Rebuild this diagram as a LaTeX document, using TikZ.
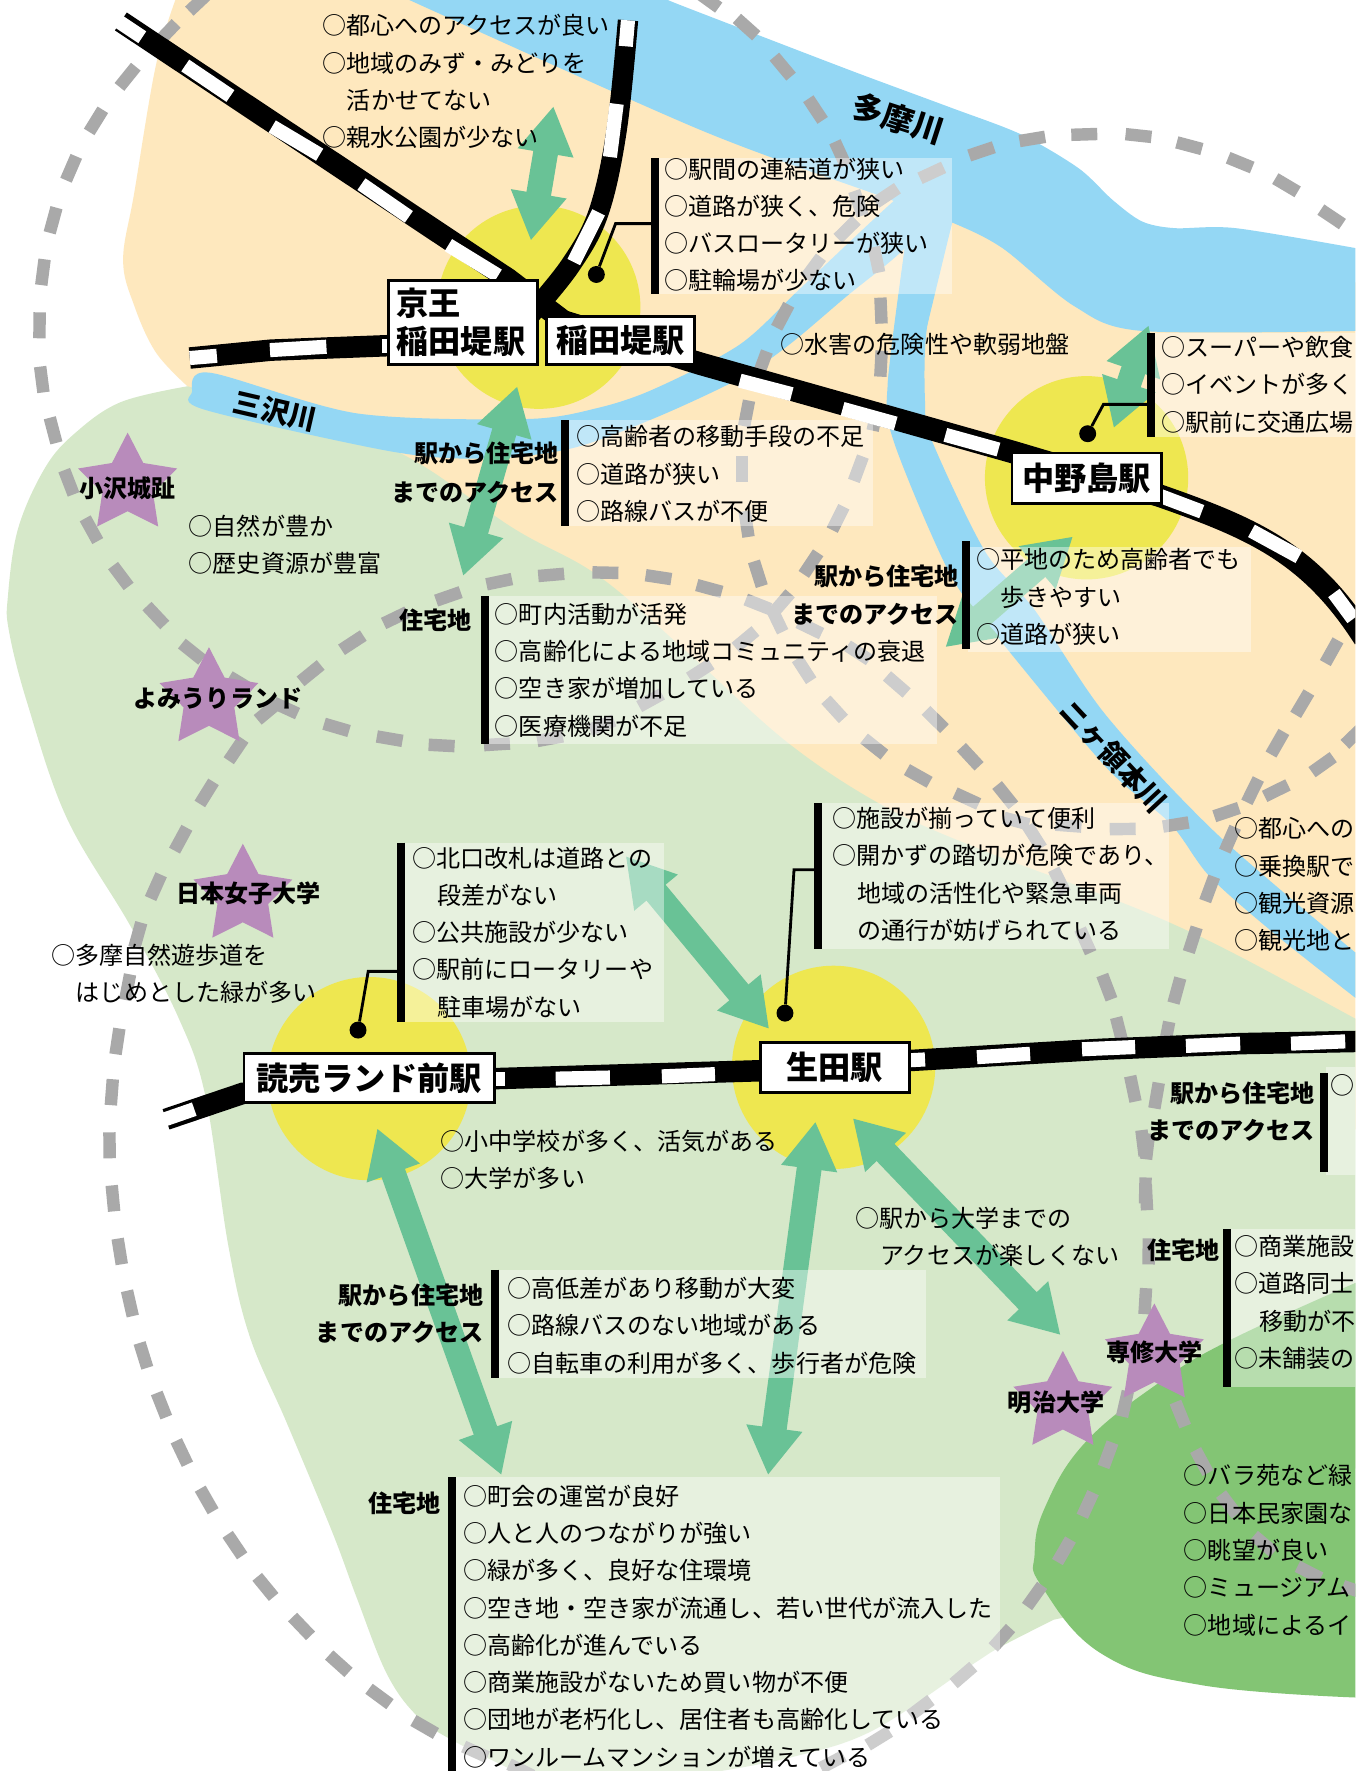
\documentclass[tikz,border=0pt]{standalone}
\usepackage{fontspec}
\setmainfont{Noto Sans CJK JP}
\usetikzlibrary{arrows.meta,shapes.geometric}
\definecolor{beige}{HTML}{FEE8BE}
\definecolor{pale}{HTML}{D6E8C9}
\definecolor{river}{HTML}{94D7F4}
\definecolor{yell}{HTML}{EEE750}
\definecolor{arrowg}{HTML}{69C296}
\definecolor{starp}{HTML}{B88BBB}
\definecolor{park}{HTML}{83C574}
\definecolor{greyd}{HTML}{A9A9A9}
\newcounter{tln}
\newcommand{\tln}[3]{\stepcounter{tln}\node[txt] (t\thetln) at (#1,#2) {#3};}
\newcommand{\bln}[3]{\stepcounter{tln}\node[btxt,anchor=east] (t\thetln) at (#1,#2) {#3};}
\newcommand{\cln}[3]{\stepcounter{tln}\node[btxt,anchor=center] (t\thetln) at (#1,#2) {#3};}
\newcommand{\dashrun}[1]{%
  \foreach \x/\y [count=\ci, remember=\px as \ppx (initially 0), remember=\py as \ppy (initially 0), remember=\x as \px (initially 0), remember=\y as \py (initially 0)] in {#1}{%
    \ifnum\ci>2
      \pgfmathsetmacro\dl{veclen(\x-\ppx,\y-\ppy)}%
      \pgfmathsetmacro\ddx{11.5*(\x-\ppx)/\dl}%
      \pgfmathsetmacro\ddy{11.5*(\y-\ppy)/\dl}%
      \draw[gdash] ({\px-\ddx},{\py-\ddy}) -- ({\px+\ddx},{\py+\ddy});
    \fi
  }%
}
\tikzset{
  txt/.style={anchor=west,inner sep=0pt,text height=20.5pt,text depth=3pt,font=\fontsize{21.3}{21.3}\selectfont},
  btxt/.style={inner sep=0pt,text height=20.5pt,text depth=3pt,font=\bfseries\fontsize{21.3}{21.3}\selectfont},
  gdash/.style={line width=11pt,draw=greyd,line cap=butt},
  wdash/.style={line width=12.5pt,draw=white,line cap=butt},
  dbl/.style={line width=22pt,draw=arrowg,{Triangle[length=42pt,width=47pt]}-{Triangle[length=42pt,width=47pt]}},
  boxw/.style={fill=white,fill opacity=.42},
  barline/.style={line width=7pt,draw=black,line cap=butt},
  leader/.style={line width=2.5pt,draw=black},
  dot/.style={circle,fill=black,inner sep=0pt,minimum size=15pt},
  stn/.style={draw=black,line width=2.5pt,fill=white,inner sep=0pt,font=\bfseries\fontsize{28.5}{34}\selectfont},
  starn/.style={star,star points=5,star point ratio=1.95,fill=starp,inner sep=0pt,minimum size=92pt},
  rivlabel/.style={inner sep=0pt,font=\bfseries\fontsize{25}{25}\selectfont},
}
\begin{document}
\begin{tikzpicture}[x=1pt,y=-1pt]
\useasboundingbox (0,0) rectangle (1200,1568);
\clip (0,0) rectangle (1200,1568);
\fill[white] (0,0) rectangle (1200,1568);
% land
\fill[beige] plot[smooth,tension=.6] coordinates {(156,-2)(138,58)(119,170)(109,230)(119,271)(138,312)(166,342)} -- (300,500) -- (700,800) -- (1200,1000) -- (1200,250) -- (1000,230) -- (620,50) -- (400,-2) -- cycle;
\fill[pale] plot[smooth,tension=.6] coordinates {(166,342)(107,356)(67,383)(40,414)(16,468)(7,528)(8,559)(24,622)(59,724)(115,819)(158,901)(182,971)(202,1102)(221,1183)(254,1260)(294,1356)(316,1415)(342,1481)(368,1518)(399,1540)(460,1570)} -- plot[smooth,tension=.6] coordinates {(626,1570)(700,1556)(773,1532)(862,1473)(886,1458)(933,1434)} -- (1000,1420) -- (1200,1300) -- plot[smooth,tension=.6] coordinates {(1202,903)(1098,847)(1036,817)(975,792)(868,752)(783,714)(698,658)(609,578)(530,510)(455,468)(356,402)(250,365)} -- cycle;
\fill[park] plot[smooth,tension=.7] coordinates {(1202,1135)(1088,1187)(1025,1225)(960,1278)(925,1335)(916,1376)(922,1404)(975,1464)(1064,1492)(1202,1503)} -- cycle;
% rivers
\fill[river] plot[smooth,tension=.5] coordinates {(589,-2)(596,2)(679,34)(760,65)(841,95)(904,119)(955,149)(985,177)(1011,196)(1040,202)(1094,202)(1202,220)} -- (1202,293) -- plot[smooth,tension=.5] coordinates {(1202,293)(1011,293)(951,271)(888,220)(843,197)(778,173)(620,115)(358,-2)} -- cycle;
\fill[river] plot[smooth cycle,tension=.5] coordinates {(186,330)(316,366)(466,371)(530,361)(580,344)(655,305)(710,254)(797,173)(817,166)(833,178)(801,220)(750,262)(699,305)(655,335)(580,370)(506,397)(430,406)(348,400)(182,363)(170,347)};
\fill[river] plot[smooth,tension=.5] coordinates {(843,197)(821,288)(819,356)(825,390)(872,488)(916,540)(979,633)(1077,738)(1202,845)} -- plot[smooth,tension=.5] coordinates {(1202,885)(1130,828)(1071,776)(1036,729)(979,679)(884,565)(841,508)(791,390)(786,339)(801,220)} -- cycle;
\fill[river] (795,175) -- (843,180) -- (843,197) -- (821,288) -- (786,339) -- (801,220) -- cycle;
% station circles
\fill[yell] (477,272) circle (90);
\fill[yell] (962,423) circle (90);
\fill[yell] (738,945) circle (90);
\fill[yell] (327,955) circle (90);
% walking routes
\dashrun{200/-20,176/2,148/29,113/68,85/107,63/149,47/195,38/241,35/288,37/336,47/381,61/427,81/469,107/510,138/545,170/577,213/605,253/627,298/644,345/654,391/660,440/659,487/654,533/642,576/620,620/594,660/566,692/534,718/499,742/459,760/415,775/370,780/322,780/275,776/230,760/180,744/136,722/97,693/59,661/24,627/0,600/-20}
\dashrun{1215/215,1179/192,1139/164,1098/144,1053/129,1008/120,960/119,914/123,869/134,825/153,785/173,750/203,720/237,693/280,675/322,661/366,657/415,661/464,671/508,688/549,712/593,739/628,774/661,813/687,856/707,900/727,946/731,994/734,1041/730,1086/719,1130/700,1171/677,1199/651,1230/620}
\dashrun{210/650,237/630,275/596,312/569,350/547,397/528,442/515,488/509,536/507,583/511,628/521,671/535,717/556,760/578,794/606,828/637,859/670,890/704,916/741,938/780,961/833,980/874,991/912,1003/964,1012/1012,1015/1060,1017/1108,1014/1152,1012/1190}
\dashrun{1205/530,1179/577,1153/623,1131/658,1109/700,1089/743,1071/787,1056/832,1042/877,1033/916,1024/970,1016/1015,1014/1054,1014/1100}
\dashrun{1000/1205,996/1243,981/1288,963/1332,942/1373,916/1413,887/1450,853/1483,815/1512,778/1539,737/1560,700/1580}
\dashrun{225/640,209/664,183/702,160/743,138/785,122/828,113/874,104/922,99/967,97/1014,100/1061,106/1108,115/1154,127/1200,143/1244,161/1286,183/1328,208/1368,235/1405,267/1440,300/1473,336/1502,376/1529,421/1551,461/1567,500/1590}
\dashrun{1030/1210,1045/1252,1064/1294,1088/1332,1119/1367,1159/1392,1200/1408,1240/1420}
% railways
\draw[line width=19pt] (107,19) -- (450,247) -- (500,285);
\draw[line width=20pt] (500,285) -- (620,322) -- (896,400) -- (1027,439) .. controls (1110,468) and (1160,490) .. (1208,565);
\draw[line width=19pt] (168,317) -- (240,310) -- (345,306) -- (430,300);
\draw[line width=18pt] plot[smooth,tension=.6] coordinates {(470,278)(505,235)(530,188)(546,115)(556,18)};
\draw[line width=19pt] (147,991) -- (215,968) -- (438,955) -- (673,948) -- (805,939) -- (975,929) -- (1098,924) -- (1205,922);
\draw[wdash] (105,19) -- (126,33);
\draw[wdash] (164,58) -- (204,85);
\draw[wdash] (241,112) -- (283,137);
\draw[wdash] (320,163) -- (362,192);
\draw[wdash] (397,217) -- (441,244);
\draw[wdash] (556,18) -- (554,41);
\draw[wdash] (546,92) -- (540,139);
\draw[wdash] (530,188) -- (508,232);
\draw[wdash] (168,317) -- (192,315);
\draw[wdash] (239,310) -- (289,307);
\draw[wdash] (338,306) -- (350,306);
\draw[wdash] (655,337) -- (701,349);
\draw[wdash] (746,362) -- (793,375);
\draw[wdash] (837,385) -- (884,398);
\draw[wdash] (1027,439) -- (1064,453);
\draw[wdash] (1108,470) -- (1150,493);
\draw[wdash] (1181,525) -- (1198,548);
\draw[wdash] (146,991) -- (172,982);
\draw[wdash] (435,955) -- (447,955);
\draw[wdash] (492,955) -- (540,954);
\draw[wdash] (586,953) -- (633,951);
\draw[wdash] (800,939) -- (819,938);
\draw[wdash] (865,936) -- (912,933);
\draw[wdash] (958,929) -- (1005,927);
\draw[wdash] (1050,926) -- (1098,924);
\draw[wdash] (1143,924) -- (1191,922);
% two-way arrows
\coordinate (a1a) at (490,94); \coordinate (a1b) at (470,213);
\coordinate (a2a) at (458,342); \coordinate (a2b) at (410,510);
\coordinate (a3a) at (1017,288); \coordinate (a3b) at (986,379);
\coordinate (a4a) at (950,475); \coordinate (a4b) at (837,573);
\coordinate (a5a) at (554,758); \coordinate (a5b) at (681,911);
\coordinate (a6a) at (334,999); \coordinate (a6b) at (444,1306);
\coordinate (a7a) at (722,993); \coordinate (a7b) at (680,1306);
\coordinate (a8a) at (755,990); \coordinate (a8b) at (939,1182);
\draw[dbl] (a1a) -- (a1b);
\draw[dbl] (a2a) -- (a2b);
\draw[dbl] (a3a) -- (a3b);
\draw[dbl] (a4a) -- (a4b);
\draw[dbl] (a5a) -- (a5b);
\draw[dbl] (a6a) -- (a6b);
\draw[dbl] (a7a) -- (a7b);
\draw[dbl] (a8a) -- (a8b);
% stars
\node[starn] (s1) at (113,429) {};
\node[starn] (s2) at (185,619) {};
\node[starn] (s3) at (215,793) {};
\node[starn] (s4) at (941,1242) {};
\node[starn] (s5) at (1022,1200) {};
% translucent boxes
\fill[boxw] (582,140) rectangle (843,260);
\fill[boxw] (1021,295) rectangle (1202,387);
\fill[boxw] (502,372) rectangle (773,466);
\fill[boxw] (857,484) rectangle (1108,577);
\fill[boxw] (431,528) rectangle (830,659);
\fill[boxw] (357,746) rectangle (588,905);
\fill[boxw] (726,711) rectangle (1035,840);
\fill[boxw] (440,1124) rectangle (820,1220);
\fill[boxw] (1174,945) rectangle (1202,1040);
\fill[boxw] (1088,1088) rectangle (1202,1228);
\fill[boxw] (402,1308) rectangle (885,1570);
% bars
\coordinate (b1t) at (580,140); \coordinate (b1b) at (580,260);
\coordinate (b2t) at (1019,295); \coordinate (b2b) at (1019,387);
\coordinate (b3t) at (500,372); \coordinate (b3b) at (500,466);
\coordinate (b4t) at (855,479); \coordinate (b4b) at (855,575);
\coordinate (b5t) at (429,528); \coordinate (b5b) at (429,659);
\coordinate (b6t) at (355,746); \coordinate (b6b) at (355,905);
\coordinate (b7t) at (724,711); \coordinate (b7b) at (724,840);
\coordinate (b8t) at (438,1124); \coordinate (b8b) at (438,1220);
\coordinate (b9t) at (1172,950); \coordinate (b9b) at (1172,1038);
\coordinate (b10t) at (1086,1088); \coordinate (b10b) at (1086,1228);
\coordinate (b11t) at (400,1308); \coordinate (b11b) at (400,1570);
\foreach \k in {1,...,11}{\draw[barline] (b\k t) -- (b\k b);}
% leaders
\node[dot] (d1) at (528,243) {};
\node[dot] (d2) at (963,384) {};
\node[dot] (d3) at (317,912) {};
\node[dot] (d4) at (695,897) {};
\draw[leader] (d1) -- (545,198) -- (580,198);
\draw[leader] (d2) -- (977,358) -- (1019,358);
\draw[leader] (d3) -- (326,860) -- (355,860);
\draw[leader] (d4) -- (703,770) -- (724,770);
% stations
\node[stn,minimum width=132pt,minimum height=75pt,align=left,text width=118pt] (keio) at (410,285.5) {京王\\稲田堤駅};
\node[stn,minimum width=131pt,minimum height=43pt] (inada) at (549.5,301.5) {稲田堤駅};
\node[stn,minimum width=132pt,minimum height=45pt] (nakano) at (962,423.5) {中野島駅};
\node[stn,minimum width=132pt,minimum height=44pt] (ikuta) at (739,945) {生田駅};
\node[stn,minimum width=222pt,minimum height=43pt] (yomiuri) at (327,954.5) {読売ランド前駅};
% river names
\node[rivlabel,rotate=-18,font=\bfseries\fontsize{28}{28}\selectfont] (r1) at (795,105) {多摩川};
\node[rivlabel,rotate=-13] (r2) at (244,364) {三沢川};
\node[rivlabel,rotate=-47] (r3) at (986,670) {ニヶ領本川};
% text
\tln{285}{22}{○都心へのアクセスが良い}
\tln{285}{55}{○地域のみず・みどりを}
\tln{307}{88}{活かせてない}
\tln{285}{121}{○親水公園が少ない}
\tln{588}{149}{○駅間の連結道が狭い}
\tln{588}{182}{○道路が狭く、危険}
\tln{588}{215}{○バスロータリーが狭い}
\tln{588}{248}{○駐輪場が少ない}
\tln{691}{304}{○水害の危険性や軟弱地盤}
\tln{1028}{307}{○スーパーや飲食}
\tln{1028}{340}{○イベントが多く}
\tln{1028}{373}{○駅前に交通広場}
\tln{510}{386}{○高齢者の移動手段の不足}
\tln{510}{419}{○道路が狭い}
\tln{510}{452}{○路線バスが不便}
\bln{495}{401}{駅から住宅地}
\bln{495}{435}{までのアクセス}
\tln{864}{495}{○平地のため高齢者でも}
\tln{886}{528}{歩きやすい}
\tln{864}{561}{○道路が狭い}
\bln{849}{510}{駅から住宅地}
\bln{849}{543}{までのアクセス}
\tln{438}{543}{○町内活動が活発}
\tln{438}{576}{○高齢化による地域コミュニティの衰退}
\tln{438}{609}{○空き家が増加している}
\tln{438}{642}{○医療機関が不足}
\bln{418}{549}{住宅地}
\tln{167}{465}{○自然が豊か}
\tln{167}{498}{○歴史資源が豊富}
\tln{45}{845}{○多摩自然遊歩道を}
\tln{67}{878}{はじめとした緑が多い}
\tln{365}{759}{○北口改札は道路との}
\tln{387}{792}{段差がない}
\tln{365}{825}{○公共施設が少ない}
\tln{365}{858}{○駅前にロータリーや}
\tln{387}{891}{駐車場がない}
\tln{737}{724}{○施設が揃っていて便利}
\tln{737}{757}{○開かずの踏切が危険であり、}
\tln{759}{790}{地域の活性化や緊急車両}
\tln{759}{823}{の通行が妨げられている}
\tln{1093}{733}{○都心への}
\tln{1093}{766}{○乗換駅で}
\tln{1093}{799}{○観光資源}
\tln{1093}{832}{○観光地と}
\tln{390}{1010}{○小中学校が多く、活気がある}
\tln{390}{1043}{○大学が多い}
\tln{449}{1140}{○高低差があり移動が大変}
\tln{449}{1173}{○路線バスのない地域がある}
\tln{449}{1206}{○自転車の利用が多く、歩行者が危険}
\bln{428}{1146}{駅から住宅地}
\bln{428}{1179}{までのアクセス}
\tln{757}{1078}{○駅から大学までの}
\tln{779}{1111}{アクセスが楽しくない}
\tln{1178}{960}{○}
\bln{1164}{967}{駅から住宅地}
\bln{1164}{1000}{までのアクセス}
\tln{1093}{1103}{○商業施設}
\tln{1093}{1136}{○道路同士}
\tln{1115}{1169}{移動が不}
\tln{1093}{1202}{○未舗装の}
\bln{1080}{1106}{住宅地}
\tln{410}{1324}{○町会の運営が良好}
\tln{410}{1357}{○人と人のつながりが強い}
\tln{410}{1390}{○緑が多く、良好な住環境}
\tln{410}{1423}{○空き地・空き家が流通し、若い世代が流入した}
\tln{410}{1456}{○高齢化が進んでいる}
\tln{410}{1489}{○商業施設がないため買い物が不便}
\tln{410}{1522}{○団地が老朽化し、居住者も高齢化している}
\tln{410}{1555}{○ワンルームマンションが増えている}
\bln{390}{1330}{住宅地}
\tln{1048}{1306}{○バラ苑など緑}
\tln{1048}{1339}{○日本民家園な}
\tln{1048}{1372}{○眺望が良い}
\tln{1048}{1405}{○ミュージアム}
\tln{1048}{1438}{○地域によるイ}
\cln{113}{432}{小沢城趾}
\cln{193}{618}{よみうりランド}
\cln{220}{790}{日本女子大学}
\cln{935}{1241}{明治大学}
\cln{1022}{1197}{専修大学}
\end{tikzpicture}
\end{document}
